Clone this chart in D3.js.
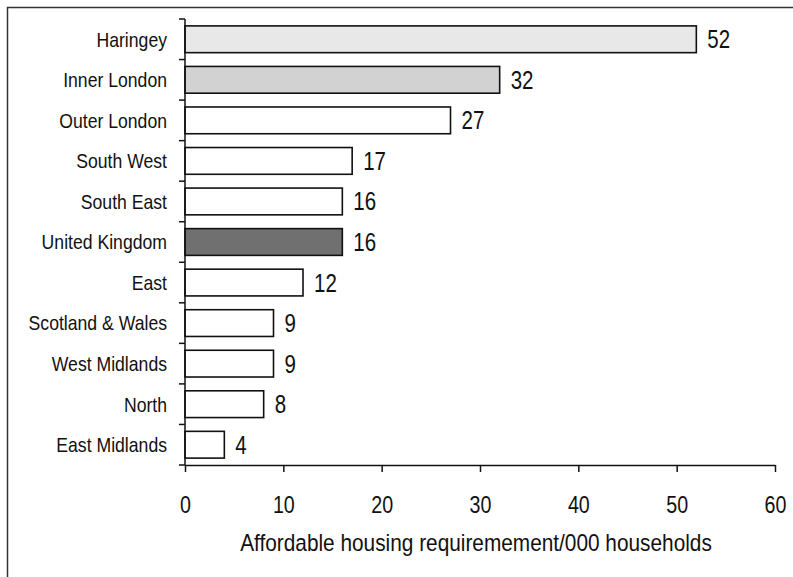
<!DOCTYPE html>
<html><head><meta charset="utf-8">
<script src="https://cdn.jsdelivr.net/npm/d3@7"></script>
<style>
body{margin:0;background:#fff;}
svg text{font-family:"Liberation Sans",Arial,sans-serif;fill:#111;}
</style></head>
<body><svg id="c" width="793" height="577"></svg>
<script>
const categories=["Haringey","Inner London","Outer London","South West","South East","United Kingdom","East","Scotland & Wales","West Midlands","North","East Midlands"];
const values=[52,32,27,17,16,16,12,9,9,8,4];
const fills=["#e8e8e8","#d2d2d2","#ffffff","#ffffff","#ffffff","#707070","#ffffff","#ffffff","#ffffff","#ffffff","#ffffff"];
const xTicks=[0,10,20,30,40,50,60];
const xTitle="Affordable housing requiremement/000 households";

const svg=d3.select("#c");
// frame
svg.append("line").attr("x1",7).attr("x2",793).attr("y1",7.5).attr("y2",7.5).attr("stroke","#333").attr("stroke-width",1.5);
svg.append("line").attr("x1",7.5).attr("x2",7.5).attr("y1",7).attr("y2",577).attr("stroke","#333").attr("stroke-width",1.5);

const plotTop=19, plotBottom=465;
const x=d3.scaleLinear().domain([0,60]).range([185,775]);
const y=d3.scaleBand().domain(categories).range([plotTop,plotBottom]).paddingInner(0.34).paddingOuter(0.17);

// bars
svg.selectAll("rect.bar").data(categories).join("rect").attr("class","bar")
 .attr("x",x(0)).attr("y",d=>y(d)).attr("width",(d,i)=>x(values[i])-x(0)).attr("height",y.bandwidth())
 .attr("fill",(d,i)=>fills[i]).attr("stroke","#111").attr("stroke-width",1.6);

// value labels (condensed)
svg.selectAll("text.val").data(categories).join("text").attr("class","val")
 .attr("transform",(d,i)=>`translate(${x(values[i])+11},${y(d)+y.bandwidth()/2}) scale(0.82,1)`)
 .attr("dy","0.36em").attr("font-size",25).text((d,i)=>values[i]);

// y axis
const yStep=(plotBottom-plotTop)/categories.length;
const yb=d3.range(categories.length+1).map(i=>plotTop+i*yStep);
svg.append("line").attr("x1",185).attr("x2",185).attr("y1",plotTop).attr("y2",plotBottom).attr("stroke","#111").attr("stroke-width",1.5);
svg.selectAll("line.yt").data(yb).join("line").attr("class","yt").attr("x1",179).attr("x2",185).attr("y1",d=>d).attr("y2",d=>d).attr("stroke","#111").attr("stroke-width",1.5);
svg.selectAll("text.cat").data(categories).join("text").attr("class","cat")
 .attr("transform",d=>`translate(167,${y(d)+y.bandwidth()/2}) scale(0.86,1)`)
 .attr("dy","0.36em").attr("text-anchor","end").attr("font-size",20.5).text(d=>d);

// x axis
const xa=svg.append("g").attr("transform",`translate(0,${plotBottom})`)
 .call(d3.axisBottom(x).tickValues(xTicks).tickSize(7).tickSizeOuter(0).tickPadding(24).tickFormat(d3.format("d")));
xa.select(".domain").attr("stroke","#111").attr("stroke-width",1.5);
xa.selectAll(".tick line").attr("stroke","#111").attr("stroke-width",1.5);
xa.selectAll(".tick text").attr("font-size",24).attr("font-family",null).attr("fill","#111").attr("transform","scale(0.82,1)");

svg.append("text").attr("transform","translate(476,551) scale(0.85,1)").attr("text-anchor","middle").attr("font-size",24.5).text(xTitle);
</script></body></html>
